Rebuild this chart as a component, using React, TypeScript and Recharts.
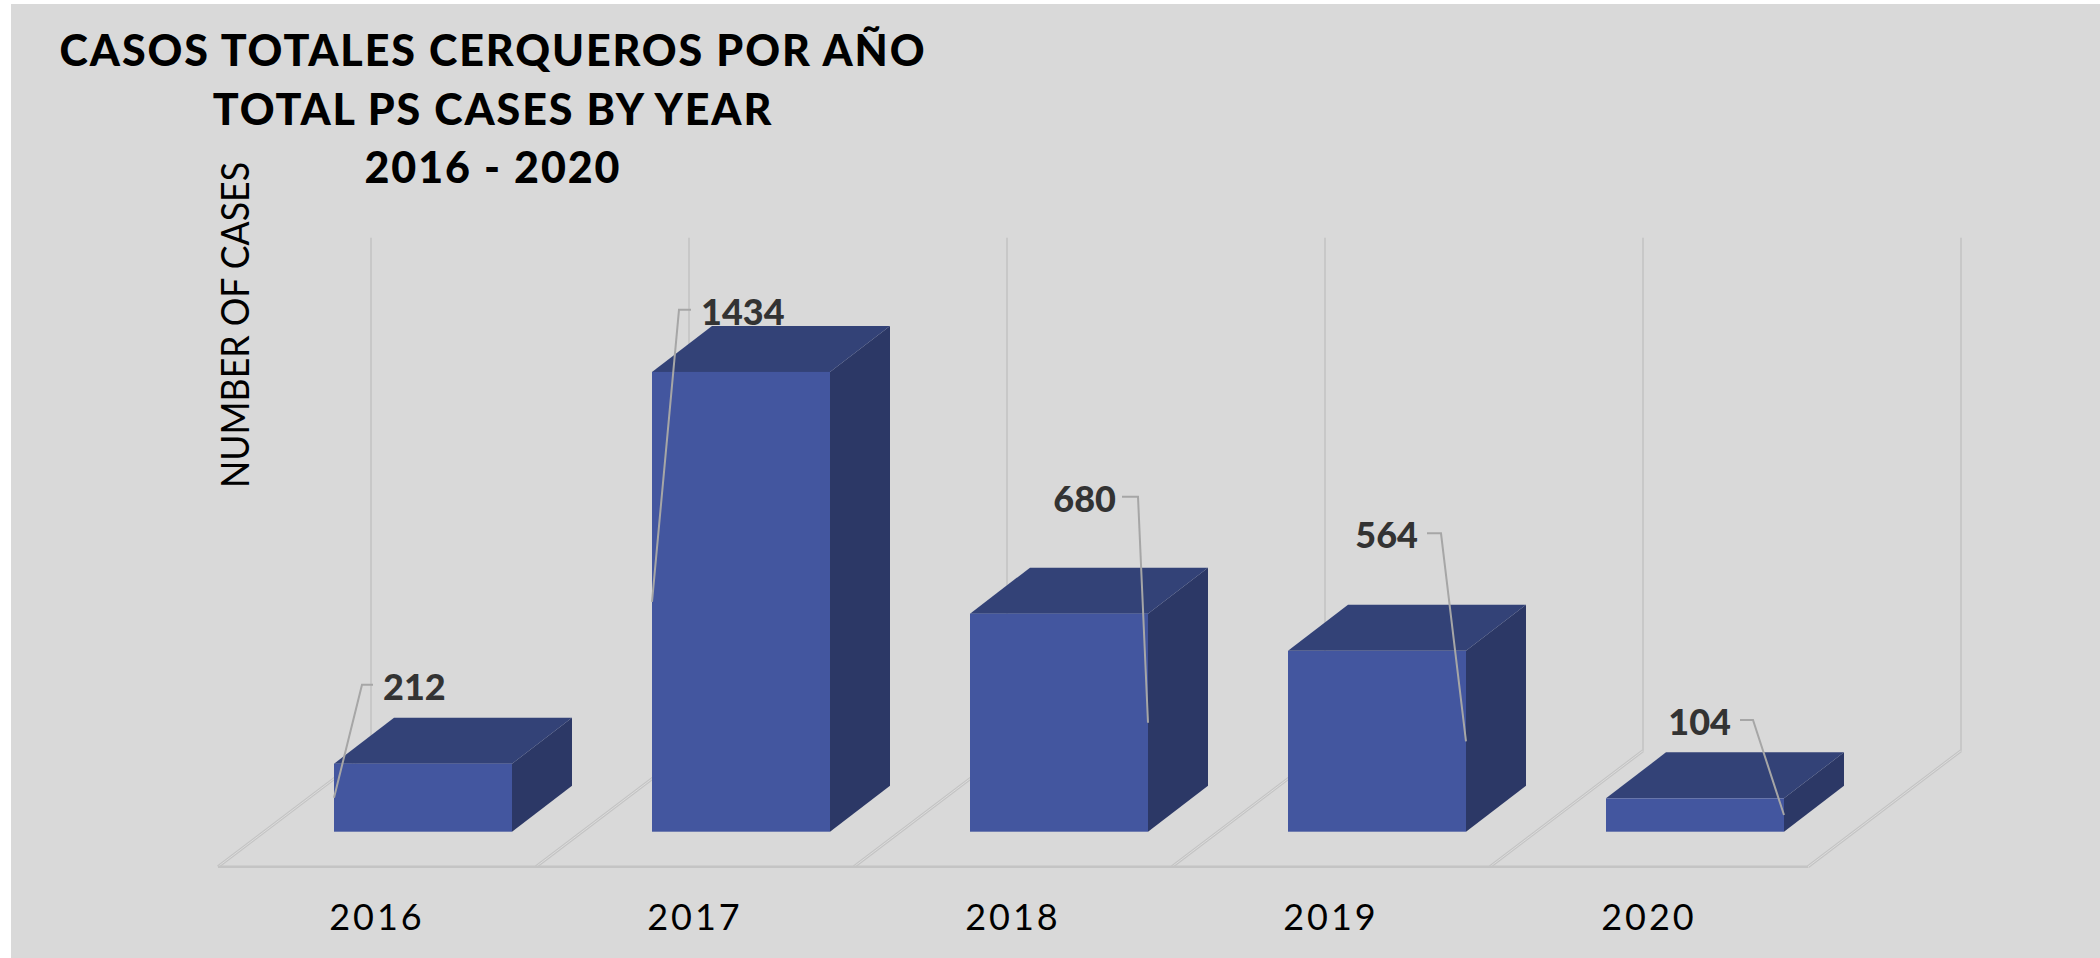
import React from 'react';
import { BarChart, Bar, XAxis, YAxis, LabelList } from 'recharts';

const years = ['2016', '2017', '2018', '2019', '2020'];
const cases = [212, 1434, 680, 564, 104];
const yMax = 1600;

const titleLines = ['CASOS TOTALES CERQUEROS POR AÑO', 'TOTAL PS CASES BY YEAR', '2016 - 2020'];

// hand placed leader lines, relative to the middle of the bar's front face
const leaders = [
    { side: 'left', elbowX: 28, elbowY: -113, tail: 11, gap: 10 },
    { side: 'left', elbowX: 27, elbowY: -292, tail: 12, gap: 10 },
    { side: 'right', elbowX: -10, elbowY: -226, tail: -16, gap: 6 },
    { side: 'right', elbowX: -25, elbowY: -208, tail: -14, gap: 9 },
    { side: 'right', elbowX: -31, elbowY: -95, tail: -13, gap: 9 },
];

const WIDTH = 2100;
const HEIGHT = 958;
const AXIS_H = 30;
const margin = { top: 318.7, right: 246, bottom: 126.3 - AXIS_H, left: 264 };
const plotW = WIDTH - margin.left - margin.right;
const plotBottom = HEIGHT - margin.bottom - AXIS_H;
const step = plotW / years.length;

const FONT = 'Lato, sans-serif';
const DEPTH_X = 60;
const DEPTH_Y = 46;

const Cuboid = (props: any) => {
    const { x, y, width, height } = props;
    const r = x + width;
    const b = y + height;
    return (
        <g>
            <polygon points={`${r},${y} ${r + DEPTH_X},${y - DEPTH_Y} ${r + DEPTH_X},${b - DEPTH_Y} ${r},${b}`} fill="#2c3866" />
            <polygon points={`${x},${y} ${x + DEPTH_X},${y - DEPTH_Y} ${r + DEPTH_X},${y - DEPTH_Y} ${r},${y}`} fill="#334277" />
            <rect x={x} y={y} width={width} height={height} fill="#43569f" />
        </g>
    );
};

const LeaderLabel = (props: any) => {
    const { value, index } = props;
    const box = props.viewBox ?? props;
    const l = leaders[index];
    const ax = l.side === 'left' ? box.x : box.x + box.width;
    const ay = box.y + box.height / 2;
    const ex = ax + l.elbowX;
    const ey = ay + l.elbowY;
    const tx = ex + l.tail;
    const onRight = l.tail > 0;
    return (
        <g>
            <polyline points={`${ax},${ay} ${ex},${ey} ${tx},${ey}`} fill="none" stroke="#a6a6a6" strokeWidth={2} />
            <text
                x={onRight ? tx + l.gap : tx - l.gap}
                y={ey + 15}
                textAnchor={onRight ? 'start' : 'end'}
                fontFamily={FONT}
                fontWeight={900}
                fontSize={36}
                fill="#333333"
            >
                {value}
            </text>
        </g>
    );
};

const YearTick = (props: any) => {
    const { x, payload } = props;
    return (
        <text x={x - 46} y={plotBottom + 98} textAnchor="middle" fontFamily={FONT} fontSize={36} letterSpacing={3} fill="#000">
            {payload.value}
        </text>
    );
};

// floor and back wall of the 3d box, behind the bars
const Walls = () => {
    const lines = [];
    const frontY = plotBottom + 35;
    const backY = plotBottom - 81;
    for (let i = 0; i <= years.length; i++) {
        const fx = margin.left + i * step - 46;
        const bx = fx + 153;
        lines.push(
            <g key={i}>
                <line x1={fx} y1={frontY} x2={bx} y2={backY} stroke="#c4c4c4" strokeWidth={3} />
                <line x1={fx} y1={frontY} x2={bx} y2={backY} stroke="#dcdcdc" strokeWidth={1} />
                <line x1={bx} y1={backY} x2={bx} y2={margin.top - 81} stroke="#bdbdbd" strokeWidth={1.2} />
            </g>
        );
    }
    return (
        <g>
            {lines}
            <line x1={margin.left - 46} x2={margin.left + plotW - 46} y1={frontY} y2={frontY} stroke="#c4c4c4" strokeWidth={2.5} />
        </g>
    );
};

export default function App() {
    const data = years.map((year, i) => ({ year, cases: cases[i] }));
    return (
        <div style={{ position: 'absolute', left: 0, top: 0, width: WIDTH, height: HEIGHT, background: '#fff' }}>
            <div style={{ position: 'absolute', left: 11, top: 4, right: 0, bottom: 0, background: '#d9d9d9' }} />
            <div style={{ position: 'absolute', left: 0, top: 0 }}>
                <BarChart width={WIDTH} height={HEIGHT} data={data} margin={margin} barSize={178}>
                    <Walls />
                    <XAxis dataKey="year" height={AXIS_H} axisLine={false} tickLine={false} tick={YearTick} />
                    <YAxis hide domain={[0, yMax]} />
                    <Bar dataKey="cases" shape={Cuboid} isAnimationActive={false}>
                        <LabelList dataKey="cases" content={LeaderLabel} />
                    </Bar>
                    {titleLines.map((line, i) => (
                        <text key={line} x={493} y={66 + i * 58.5} textAnchor="middle" fontFamily={FONT} fontWeight={900} fontSize={43} letterSpacing={1.9} fill="#000">
                            {line}
                        </text>
                    ))}
                    <text
                        transform="translate(249,325) rotate(-90)"
                        textAnchor="middle"
                        fontFamily={FONT}
                        fontSize={38}
                        textLength={326}
                        lengthAdjust="spacingAndGlyphs"
                        fill="#000"
                    >
                        NUMBER OF CASES
                    </text>
                </BarChart>
            </div>
        </div>
    );
}
